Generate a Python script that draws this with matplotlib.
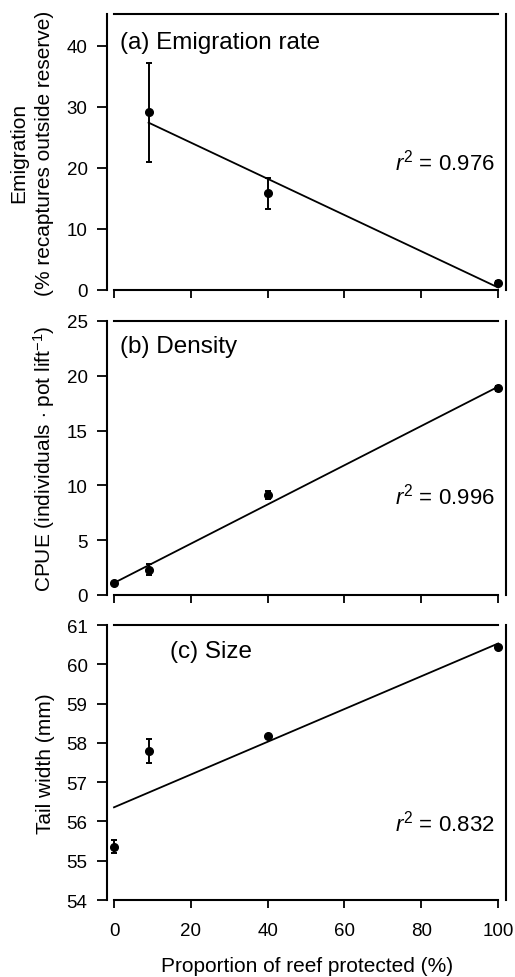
import matplotlib
matplotlib.use("Agg")
import matplotlib.pyplot as plt

plt.rcParams['font.family'] = ['Liberation Sans', 'DejaVu Sans']
plt.rcParams['mathtext.fontset'] = 'custom'
plt.rcParams['mathtext.rm'] = 'Liberation Sans'
plt.rcParams['mathtext.it'] = 'Liberation Sans:italic'

# Datos
emig_x = [9, 40, 100]
emig_y = [29.1, 15.8, 1.1]
emig_err = [8.1, 2.5, 0.3]
emig_fit_x = [9, 100]
emig_fit_y = [27.4, 0.4]

dens_x = [0, 9, 40, 100]
dens_y = [1.1, 2.3, 9.1, 18.85]
dens_err = [0.1, 0.5, 0.35, 0.2]
dens_fit_x = [0, 100]
dens_fit_y = [1.1, 19.0]

size_x = [0, 9, 40, 100]
size_y = [55.36, 57.8, 58.17, 60.43]
size_err = [0.17, 0.3, 0.04, 0.04]
size_fit_x = [0, 100]
size_fit_y = [56.36, 60.53]

titles = ['(a) Emigration rate', '(b) Density', '(c) Size']
r2_texts = ['0.976', '0.996', '0.832']
ylabels = ['Emigration\n(% recaptures outside reserve)',
           r'CPUE (individuals $\cdot$ pot lift$^{-1}$)',
           'Tail width (mm)']
ylims = [(0, 45.2), (0, 25), (54, 61)]
yticks = [[0, 10, 20, 30, 40], [0, 5, 10, 15, 20, 25], [54, 55, 56, 57, 58, 59, 60, 61]]
xticks = [0, 20, 40, 60, 80, 100]

fig = plt.figure(figsize=(5.15, 9.78), dpi=100)
# posiciones de los ejes en fraccion de figura
boxes = [[0.2078, 0.7025, 0.775, 0.2822],
         [0.2078, 0.3906, 0.775, 0.2802],
         [0.2078, 0.0787, 0.775, 0.2812]]
datos = [(emig_x, emig_y, emig_err, emig_fit_x, emig_fit_y),
         (dens_x, dens_y, dens_err, dens_fit_x, dens_fit_y),
         (size_x, size_y, size_err, size_fit_x, size_fit_y)]
title_pos = [(0.033, 0.899), (0.033, 0.91), (0.158, 0.907)]
r2_pos = [0.464, 0.362, 0.283]
label_x = [-0.132, -0.125, -0.13]

for i in range(3):
    ax = fig.add_axes(boxes[i])
    x, y, e, fx, fy = datos[i]
    ax.plot(fx, fy, color='black', lw=1.3)
    ax.errorbar(x, y, yerr=e, fmt='o', color='black', ms=5.5,
                elinewidth=1.4, capsize=2.5, capthick=1.4)
    ax.set_xlim(-1.82, 102.08)
    ax.set_ylim(*ylims[i])
    ax.set_yticks(yticks[i])
    ax.set_xticks(xticks)
    for s in ['left', 'right', 'top', 'bottom']:
        ax.spines[s].set_linewidth(1.5)
    ax.spines['top'].set_bounds(0, 100)
    ax.spines['bottom'].set_bounds(0, 100)
    ax.tick_params(axis='y', direction='out', length=7, width=1.3,
                   pad=7, labelsize=13.5)
    ax.tick_params(axis='x', direction='out', length=6, width=1.3,
                   pad=10, labelsize=13.5)
    if i < 2:
        ax.set_xticklabels([])
    lbl = ax.set_ylabel(ylabels[i], fontsize=15)
    lbl.set_linespacing(1.45)
    ax.yaxis.set_label_coords(label_x[i], 0.5)
    ax.text(title_pos[i][0], title_pos[i][1], titles[i], transform=ax.transAxes,
            fontsize=17.5, ha='left', va='center')
    ax.text(0.722, r2_pos[i], r'$r^2$ = ' + r2_texts[i], transform=ax.transAxes,
            fontsize=16, ha='left', va='center')

ax.set_xlabel('Proportion of reef protected (%)', fontsize=15, labelpad=12)

fig.savefig('out.png', dpi=100)
